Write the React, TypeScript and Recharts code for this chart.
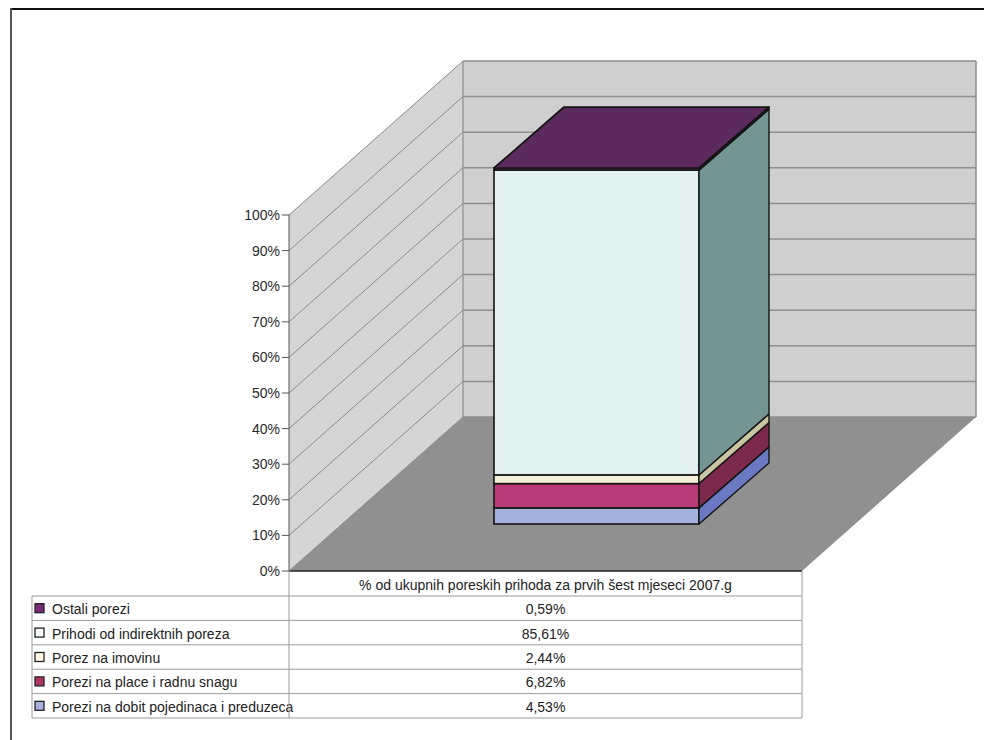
import React from 'react';
import { ComposedChart, Bar, XAxis, YAxis, CartesianGrid, ReferenceArea } from 'recharts';

// ---- data ----
const CATEGORIES = ['% od ukupnih poreskih prihoda za prvih šest mjeseci 2007.g'];
const SERIES_KEYS = ['dobit', 'place', 'imovina', 'indirektni', 'ostali'];
const SERIES_NAMES = [
  'Porezi na dobit pojedinaca i preduzeca',
  'Porezi na place i radnu snagu',
  'Porez na imovinu',
  'Prihodi od indirektnih poreza',
  'Ostali porezi',
];
const SERIES_VALUES = [4.53, 6.82, 2.44, 85.61, 0.59];
const Y_TICKS = [0, 10, 20, 30, 40, 50, 60, 70, 80, 90, 100];

// ---- styles ----
const FRONT_COLORS = ['#a3b1dc', '#b93c78', '#f6f0d6', '#e3f1f1', '#6e2a6e'];
const SIDE_COLORS = ['#6a79c2', '#7b2a4e', '#c9c5a2', '#739593', '#4a1f4a'];
const SWATCH_COLORS = ['#a8b0e0', '#b03466', '#fff9e4', '#f2fafa', '#7a2a7a'];
const TOP_COLOR = '#5c2a5e';
const FONT = '"Liberation Sans", Arial, sans-serif';

const W = 984;
const H = 732;
const MARGIN = { top: 207, right: 190, bottom: 169, left: 221 };
const Y_AXIS_W = 60;
const WALL_DEPTH = { x: 174, y: -154 };
const BAR_SHIFT = { x: 51, y: -47 };
const BAR_DEPTH = { x: 70, y: -61 };

const data = CATEGORIES.map((name) => {
  const row: Record<string, any> = { name };
  SERIES_KEYS.forEach((k, j) => {
    row[k] = SERIES_VALUES[j];
  });
  return row;
});

const fmt = (v: number) => v.toFixed(2).replace('.', ',') + '%';

function makeBarShape(idx: number, isTop: boolean) {
  return (props: any) => {
    const { x, y, width: w, height: h } = props;
    if (x == null || y == null || !w) return <g />;
    const fx = x + BAR_SHIFT.x;
    const fy = y + BAR_SHIFT.y;
    const dx = BAR_DEPTH.x;
    const dy = BAR_DEPTH.y;
    const stroke = '#151515';
    const side = `${fx + w},${fy} ${fx + w + dx},${fy + dy} ${fx + w + dx},${fy + h + dy} ${fx + w},${fy + h}`;
    const top = `${fx},${fy} ${fx + dx},${fy + dy} ${fx + w + dx},${fy + dy} ${fx + w},${fy}`;
    return (
      <g>
        <rect x={fx} y={fy} width={w} height={Math.max(h, 0)} fill={FRONT_COLORS[idx]} stroke={stroke} strokeWidth={1.6} />
        <polygon points={side} fill={SIDE_COLORS[idx]} stroke={stroke} strokeWidth={1.4} strokeLinejoin="round" />
        {isTop && <polygon points={top} fill={TOP_COLOR} stroke={stroke} strokeWidth={1.8} strokeLinejoin="round" />}
      </g>
    );
  };
}

const wallsShape = (p: any) => {
  const { x, y, width: w, height: h } = p;
  if (x == null) return <g />;
  const dx = WALL_DEPTH.x;
  const dy = WALL_DEPTH.y;
  const sideWall = `${x},${y} ${x + dx},${y + dy} ${x + dx},${y + h + dy} ${x},${y + h}`;
  const floor = `${x},${y + h} ${x + w},${y + h} ${x + w + dx},${y + h + dy} ${x + dx},${y + h + dy}`;
  return (
    <g>
      <rect x={x + dx} y={y + dy} width={w} height={h} fill="#cfcfcf" />
      <polygon points={sideWall} fill="#d5d5d5" />
      <polygon points={floor} fill="#909090" />
      <line x1={x + dx} y1={y + dy} x2={x + dx} y2={y + h + dy} stroke="#8c8c8c" strokeWidth={1.2} />
      <line x1={x + w + dx} y1={y + dy} x2={x + w + dx} y2={y + h + dy} stroke="#8c8c8c" strokeWidth={1.5} />
      <line x1={x} y1={y + h} x2={x + w} y2={y + h} stroke="#222" strokeWidth={1.6} />
    </g>
  );
};

const gridLine = (p: any) => {
  const { x1, y1, x2, y2 } = p;
  return (
    <g key={`gl-${y1}`}>
      <line x1={x1} y1={y1} x2={x1 + WALL_DEPTH.x} y2={y1 + WALL_DEPTH.y} stroke="#8a8a8a" strokeWidth={1} />
      <line
        x1={x1 + WALL_DEPTH.x}
        y1={y1 + WALL_DEPTH.y}
        x2={x2 + WALL_DEPTH.x}
        y2={y2 + WALL_DEPTH.y}
        stroke="#8f8f8f"
        strokeWidth={1.5}
      />
    </g>
  );
};

function DataTable() {
  const plotL = MARGIN.left + Y_AXIS_W;
  const plotR = W - MARGIN.right;
  const tableL = 24;
  const headTop = H - MARGIN.bottom;
  const headH = 25;
  const rowH = 24.4;
  const rowsTop = headTop + headH;
  const order = [4, 3, 2, 1, 0];
  const lineColor = '#9c9c9c';
  const center = (plotL + plotR) / 2;
  return (
    <svg width={W} height={H} style={{ position: 'absolute', left: 0, top: 0, pointerEvents: 'none' }}>
      {/* outer frame (top + left) */}
      <line x1={2} y1={1} x2={W} y2={1} stroke="#111" strokeWidth={2} />
      <line x1={3} y1={0} x2={3} y2={H} stroke="#555" strokeWidth={2} />
      {/* header cell */}
      <line x1={plotL} y1={headTop} x2={plotL} y2={rowsTop} stroke={lineColor} />
      <line x1={plotR} y1={headTop} x2={plotR} y2={rowsTop} stroke={lineColor} />
      <text x={center} y={headTop + headH / 2 + 1} textAnchor="middle" dominantBaseline="central" fontFamily={FONT} fontSize={14} fill="#222">
        {CATEGORIES[0]}
      </text>
      {/* rows */}
      {order.map((si, r) => {
        const top = rowsTop + r * rowH;
        return (
          <g key={si}>
            <line x1={tableL} y1={top} x2={plotR} y2={top} stroke={lineColor} />
            <rect x={tableL + 3} y={top + rowH / 2 - 4.5} width={9} height={9} fill={SWATCH_COLORS[si]} stroke="#222" strokeWidth={1.3} />
            <text x={tableL + 20} y={top + rowH / 2 + 1} dominantBaseline="central" fontFamily={FONT} fontSize={14} fill="#222">
              {SERIES_NAMES[si]}
            </text>
            <text x={center} y={top + rowH / 2 + 1} textAnchor="middle" dominantBaseline="central" fontFamily={FONT} fontSize={14} fill="#222">
              {fmt(SERIES_VALUES[si])}
            </text>
          </g>
        );
      })}
      <line x1={tableL} y1={rowsTop + 5 * rowH} x2={plotR} y2={rowsTop + 5 * rowH} stroke={lineColor} />
      <line x1={tableL} y1={rowsTop} x2={tableL} y2={rowsTop + 5 * rowH} stroke={lineColor} />
      <line x1={plotL} y1={rowsTop} x2={plotL} y2={rowsTop + 5 * rowH} stroke={lineColor} />
      <line x1={plotR} y1={rowsTop} x2={plotR} y2={rowsTop + 5 * rowH} stroke={lineColor} />
    </svg>
  );
}

export default function App() {
  return (
    <div style={{ position: 'relative', width: W, height: H, background: '#fff' }}>
      <ComposedChart width={W} height={H} data={data} margin={MARGIN}>
        <XAxis dataKey="name" hide />
        <YAxis
          width={Y_AXIS_W}
          domain={[0, 100]}
          ticks={Y_TICKS}
          interval={0}
          tickFormatter={(v: number) => `${v}%`}
          axisLine={{ stroke: '#555', strokeWidth: 1 }}
          tickLine={{ stroke: '#555' }}
          tickSize={7}
          tickMargin={2}
          tick={{ fontFamily: FONT, fontSize: 14, fill: '#2a2a2a' }}
        />
        <ReferenceArea y1={0} y2={100} shape={wallsShape} zIndex={-200} ifOverflow="visible" />
        <CartesianGrid horizontal={gridLine} vertical={false} zIndex={-150} />
        {SERIES_KEYS.map((k, i) => (
          <Bar
            key={k}
            dataKey={k}
            name={SERIES_NAMES[i]}
            stackId="s"
            barSize={205}
            fill={FRONT_COLORS[i]}
            isAnimationActive={false}
            shape={makeBarShape(i, i === SERIES_KEYS.length - 1)}
          />
        ))}
      </ComposedChart>
      <DataTable />
    </div>
  );
}
